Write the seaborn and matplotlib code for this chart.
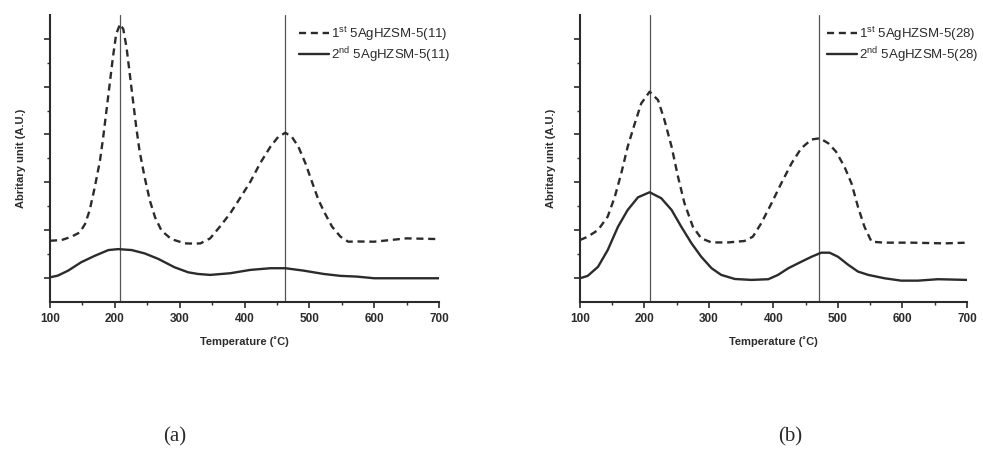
import matplotlib
matplotlib.use("Agg")
import matplotlib.pyplot as plt
import seaborn as sns
import pandas as pd
from matplotlib.ticker import MultipleLocator

sns.set_theme(style="ticks")
plt.rcParams["font.family"] = ["Liberation Sans", "DejaVu Sans"]
plt.rcParams["mathtext.fontset"] = "custom"
plt.rcParams["mathtext.rm"] = "Liberation Sans"

# ---- TPD profiles, 5AgHZSM-5(11) ----
temp_1st_11 = [100, 118, 133, 146, 154, 161, 169, 177, 182, 187, 192, 197, 202, 208, 213, 218,
               223, 228, 233, 238, 246, 254, 262, 272, 287, 308, 323, 332, 347, 362, 378, 393,
               409, 424, 440, 452, 463, 473, 483, 494, 504, 514, 524, 535, 548, 560, 573, 600,
               650, 700]
sig_1st_11 = [2.55, 2.58, 2.72, 2.9, 3.25, 3.81, 4.79, 5.9, 6.88, 7.99, 9.11, 10.23, 11.2, 11.62, 11.41, 10.64,
              9.53, 8.41, 7.3, 6.32, 5.2, 4.23, 3.53, 2.97, 2.62, 2.44, 2.43, 2.44, 2.65, 3.14, 3.7, 4.33,
              5.02, 5.79, 6.49, 6.9, 7.07, 6.9, 6.49, 5.79, 5.02, 4.26, 3.7, 3.14, 2.72, 2.51, 2.52, 2.51,
              2.65, 2.62]
temp_2nd_11 = [100, 112, 128, 148, 169, 190, 205, 226, 246, 267, 292, 313, 328, 347, 378, 409,
               440, 463, 491, 522, 548, 573, 600, 650, 700]
sig_2nd_11 = [1.02, 1.09, 1.3, 1.65, 1.92, 2.16, 2.2, 2.16, 2.02, 1.79, 1.44, 1.23, 1.16, 1.12, 1.19, 1.33,
              1.4, 1.4, 1.3, 1.16, 1.08, 1.05, 0.98, 0.98, 0.98]
peaks_11 = [208, 462]

# ---- TPD profiles, 5AgHZSM-5(28) ----
temp_1st_28 = [100, 112, 128, 143, 154, 164, 174, 185, 195, 208, 221, 231, 242, 252, 262, 275,
               288, 304, 330, 355, 368, 381, 397, 412, 428, 443, 459, 472, 485, 497, 510, 521,
               531, 541, 552, 572, 614, 665, 700]
sig_1st_28 = [2.58, 2.72, 3.0, 3.56, 4.39, 5.37, 6.49, 7.46, 8.3, 8.79, 8.44, 7.6, 6.49, 5.23, 4.12, 3.14,
              2.65, 2.48, 2.48, 2.54, 2.72, 3.28, 4.12, 4.95, 5.79, 6.42, 6.79, 6.84, 6.63, 6.28, 5.65, 4.95,
              3.97, 3.14, 2.51, 2.47, 2.47, 2.44, 2.47]
temp_2nd_28 = [100, 112, 128, 143, 159, 174, 190, 208, 226, 242, 257, 273, 288, 304, 319, 340,
               366, 392, 407, 423, 443, 459, 474, 487, 500, 516, 531, 547, 572, 598, 624, 655,
               700]
sig_2nd_28 = [0.98, 1.08, 1.46, 2.16, 3.14, 3.84, 4.37, 4.58, 4.33, 3.84, 3.14, 2.44, 1.88, 1.4, 1.12, 0.95,
              0.91, 0.94, 1.12, 1.4, 1.67, 1.88, 2.05, 2.05, 1.88, 1.54, 1.26, 1.12, 0.98, 0.88, 0.88, 0.94,
              0.91]
peaks_28 = [208, 470]

panels = [
    ("11", temp_1st_11, sig_1st_11, temp_2nd_11, sig_2nd_11, peaks_11, "(a)"),
    ("28", temp_1st_28, sig_1st_28, temp_2nd_28, sig_2nd_28, peaks_28, "(b)"),
]

fig = plt.figure(figsize=(9.83, 4.55), dpi=100)
axes_rects = [[0.0509, 0.337, 0.3957, 0.630], [0.590, 0.337, 0.3937, 0.630]]
tag_x = [0.32, 0.543]
ink = "#2b2b2b"

for rect, tx, (si, t1, s1, t2, s2, peaks, tag) in zip(axes_rects, tag_x, panels):
    ax = fig.add_axes(rect)
    df1 = pd.DataFrame({"T": t1, "S": s1})
    df2 = pd.DataFrame({"T": t2, "S": s2})
    sns.lineplot(data=df1, x="T", y="S", ax=ax, color=ink, lw=1.7,
                 label=r"1$^{\mathregular{st}}$ 5AgHZSM-5(" + si + ")")
    ax.lines[-1].set_dashes([3, 2])
    ax.lines[-1].set_solid_joinstyle("round")
    sns.lineplot(data=df2, x="T", y="S", ax=ax, color=ink, lw=1.7,
                 label=r"2$^{\mathregular{nd}}$ 5AgHZSM-5(" + si + ")")
    ax.lines[-1].set_solid_joinstyle("round")
    for p in peaks:
        ax.axvline(p, color="#555555", lw=0.9, zorder=1)

    ax.set_xlim(100, 700)
    ax.set_ylim(0, 12)
    ax.xaxis.set_major_locator(MultipleLocator(100))
    ax.xaxis.set_minor_locator(MultipleLocator(50))
    ax.set_yticks([1, 3, 5, 7, 9, 11])
    ax.set_yticks([2, 4, 6, 8, 10], minor=True)
    ax.set_yticklabels([])
    ax.tick_params(axis="both", which="major", length=4, width=1.2, color=ink, direction="out")
    ax.tick_params(axis="both", which="minor", length=2.5, width=1.0, color=ink, direction="out")
    ax.tick_params(axis="x", labelsize=8.5, pad=4, colors=ink)
    for lab in ax.get_xticklabels():
        lab.set_fontweight("bold")
    for side in ("top", "right"):
        ax.spines[side].set_visible(False)
    for side in ("left", "bottom"):
        ax.spines[side].set_linewidth(1.5)
        ax.spines[side].set_color(ink)

    ax.set_xlabel("Temperature (\u02daC)", fontsize=8, fontweight="bold", color=ink, labelpad=8)
    ax.set_ylabel("Abritary unit (A.U.)", fontsize=8, fontweight="bold", color=ink, labelpad=10)

    leg = ax.legend(loc="upper right", bbox_to_anchor=(1.05, 0.995), frameon=False,
                    fontsize=9.5, handlelength=2.3, handletextpad=0.15, labelspacing=0.2,
                    borderaxespad=0.2)
    for txt in leg.get_texts():
        txt.set_color(ink)

    ax.text(tx, -0.47, tag, transform=ax.transAxes,
            fontsize=15, family="Liberation Serif", ha="center", va="center", color=ink)

fig.savefig("out.png", dpi=100, facecolor="white")
